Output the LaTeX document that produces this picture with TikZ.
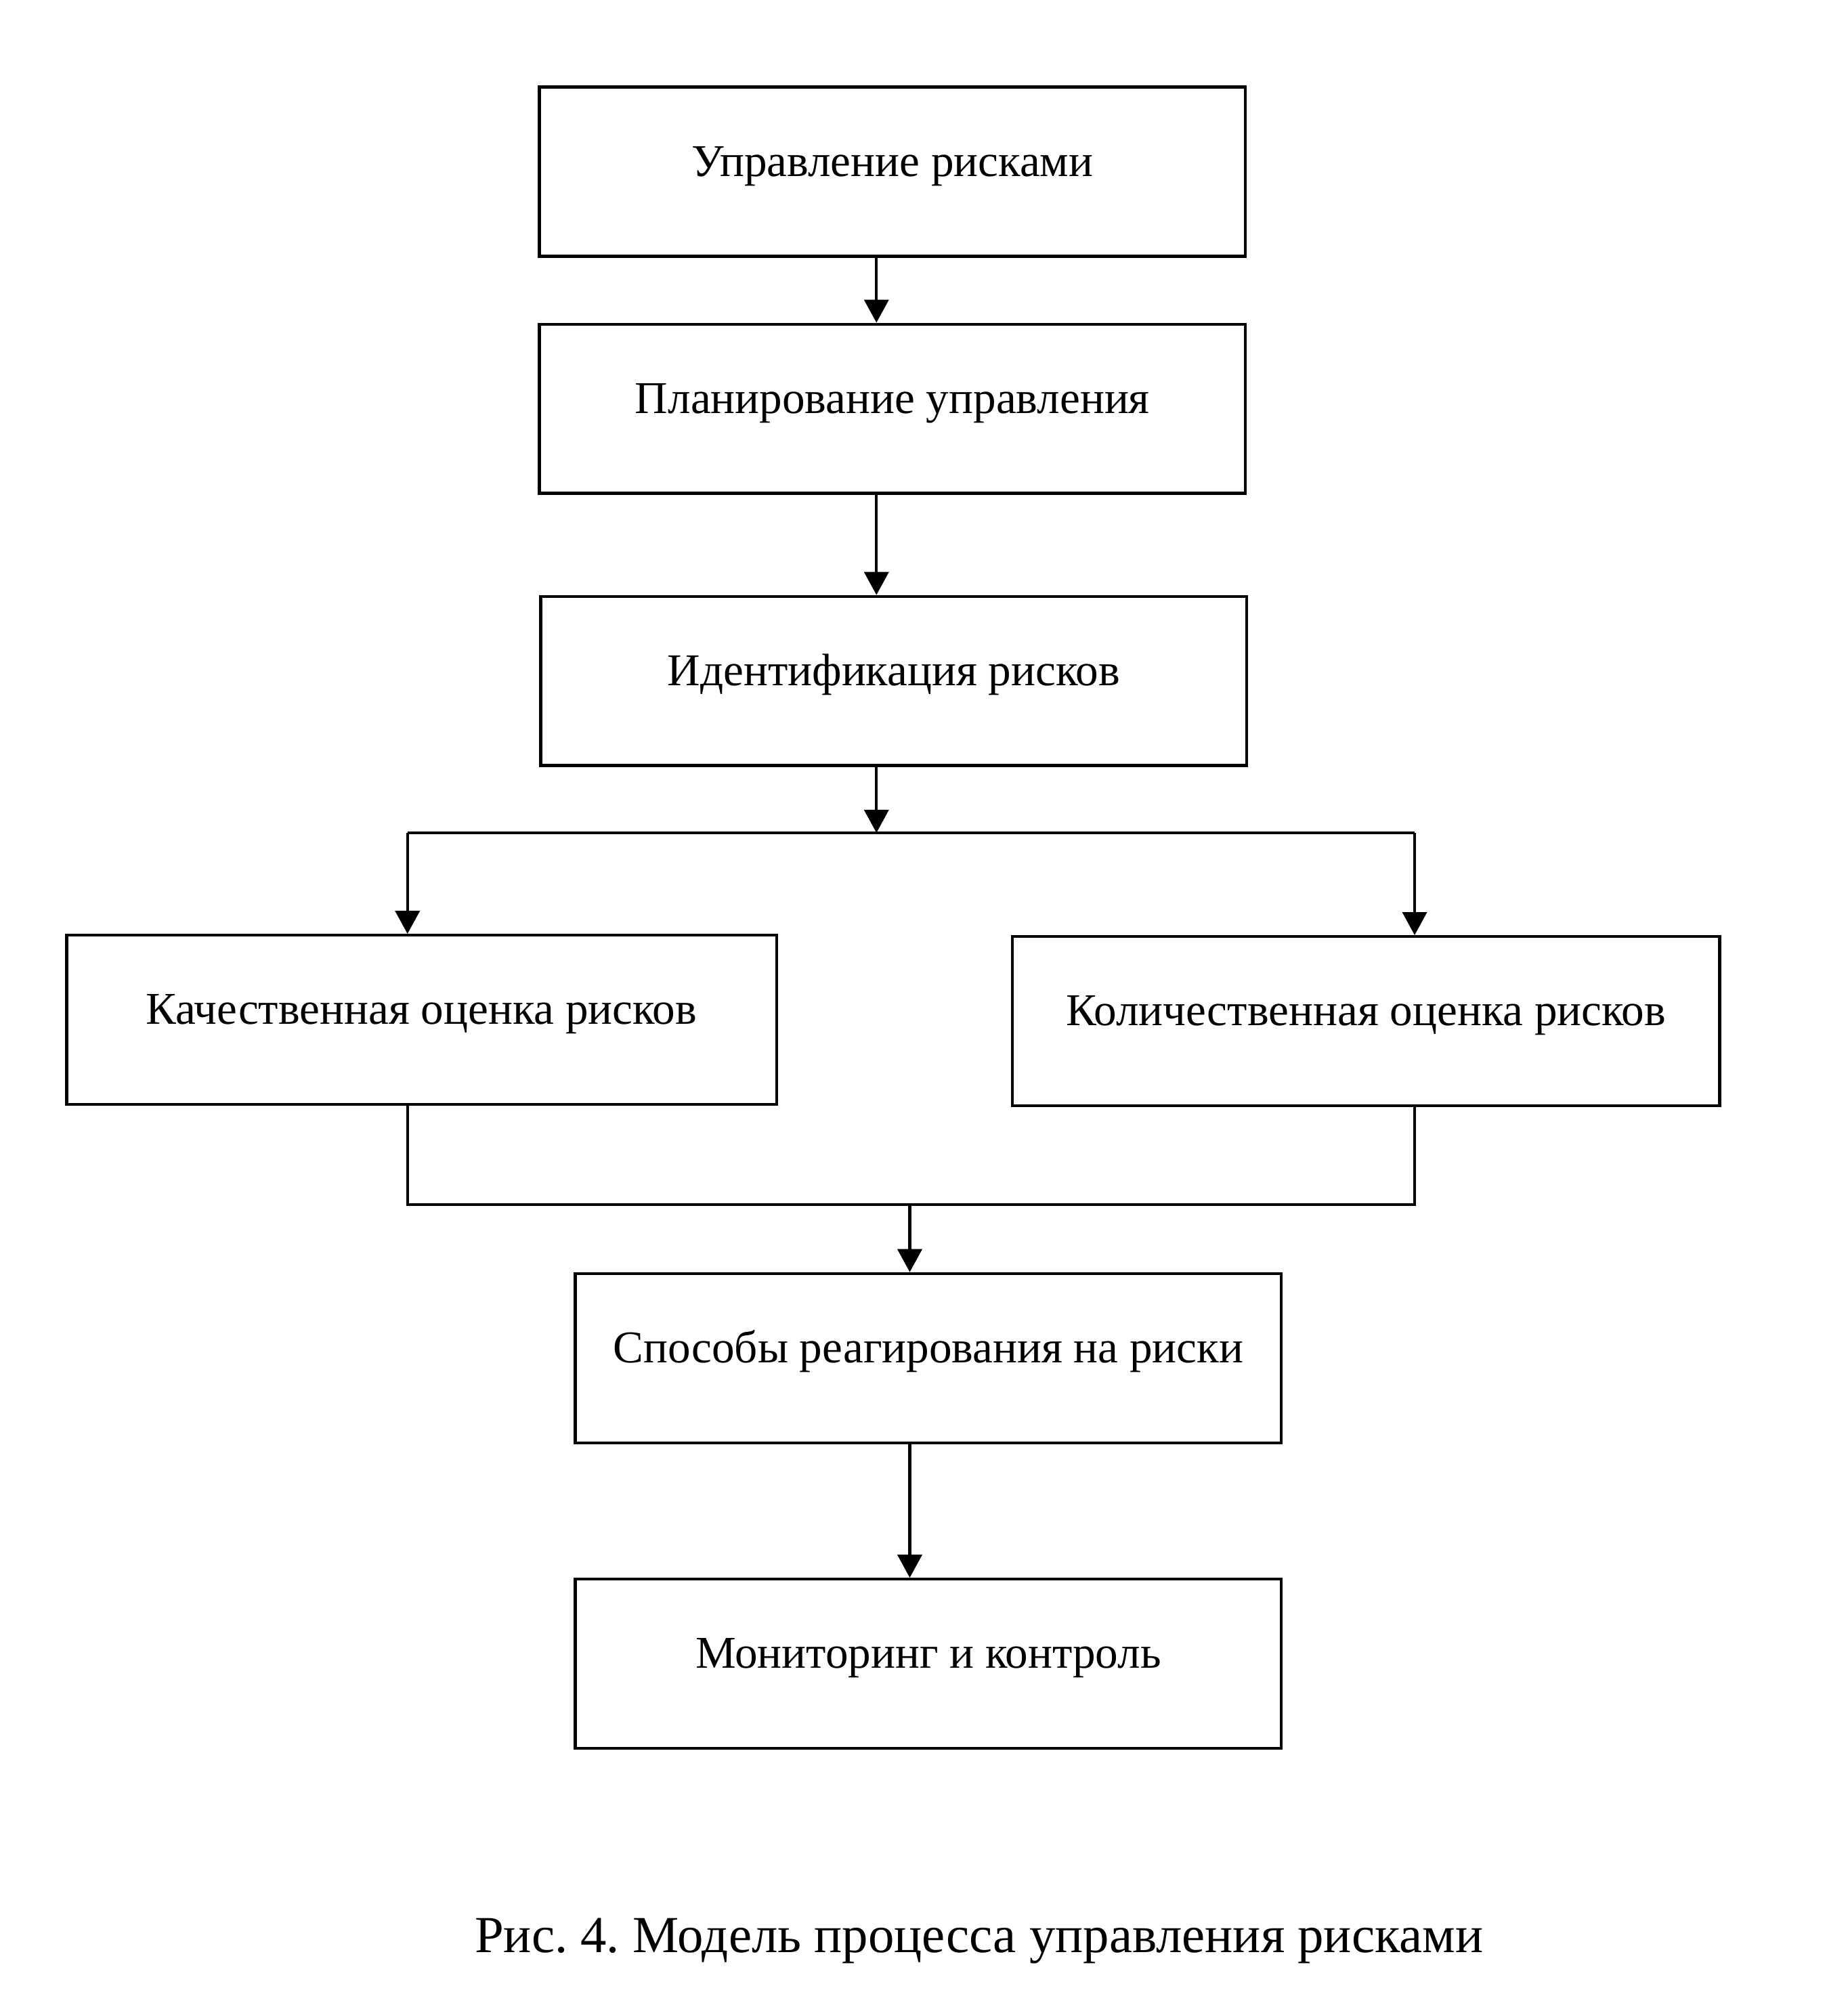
\documentclass[tikz,border=0pt]{standalone}
\usepackage{fontspec}
\setmainfont{Liberation Serif}
\usetikzlibrary{arrows.meta,positioning}
\tikzset{
    % Process step frames
    stepbox/.style={
        rectangle, draw=black, line width=0.65pt,
        minimum width=5.51cm, minimum height=1.32cm,
        text height=0.22cm, text depth=0.15cm,
        font=\fontsize{10.1pt}{12pt}\selectfont
    },
    flow/.style={
        draw=black, line width=0.65pt,
        -{Triangle[width=0.19cm,length=0.18cm]}
    },
    link/.style={draw=black, line width=0.65pt}
}
\frenchspacing
\begin{document}
\begin{tikzpicture}
\useasboundingbox (0,0) rectangle (14.42,-15.68);

% Main chain of steps
\node[stepbox] (ctrl) at (6.965,-1.34) {Управление рисками};
\node[stepbox] (plan) at (6.965,-3.19) {Планирование управления};
\node[stepbox] (ident) at (6.975,-5.315) {Идентификация рисков};

% Assessment branches
\node[stepbox, minimum width=5.54cm] (qual) at (3.29,-7.96) {Качественная оценка рисков};
\node[stepbox, minimum width=5.52cm] (quant) at (10.66,-7.97) {Количественная оценка рисков};

% Response and monitoring
\node[stepbox] (resp) at (7.245,-10.60) {Способы реагирования на риски};
\node[stepbox] (mon) at (7.245,-12.985) {Мониторинг и контроль};

% Caption
\node[font=\fontsize{11.55pt}{14pt}\selectfont] (caption) at (7.64,-15.15) {Рис. 4. Модель процесса управления рисками};

% Split and merge points
\coordinate (split) at (6.84,-6.50);
\coordinate (merge) at (7.10,-9.40);
\coordinate (leftx) at (3.18,0);
\coordinate (rightx) at (11.04,0);

% Arrows down the chain
\draw[flow] (ctrl.south -| split) -- (plan.north -| split);
\draw[flow] (plan.south -| split) -- (ident.north -| split);
\draw[flow] (ident.south -| split) -- (split);

% Branch out
\draw[link] (leftx |- split) -- (rightx |- split);
\draw[flow] (leftx |- split) -- (leftx |- qual.north);
\draw[flow] (rightx |- split) -- (rightx |- quant.north);

% Branch in
\draw[link] (leftx |- qual.south) -- (leftx |- merge) -- (rightx |- merge) -- (rightx |- quant.south);
\draw[flow] (merge) -- (resp.north -| merge);
\draw[flow] (resp.south -| merge) -- (mon.north -| merge);

\end{tikzpicture}
\end{document}
